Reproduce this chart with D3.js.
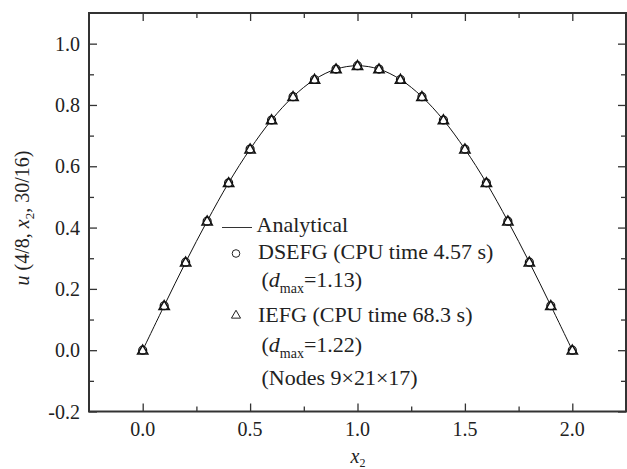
<!DOCTYPE html>
<html><head><meta charset="utf-8">
<script src="https://cdn.jsdelivr.net/npm/d3@7"></script>
<style>body{margin:0;background:#fff}svg{display:block}svg text{font-family:'Liberation Serif','DejaVu Serif','Times New Roman',serif}</style>
</head><body>
<script>
const xs = [0.0,0.1,0.2,0.3,0.4,0.5,0.6,0.7,0.8,0.9,1.0,1.1,1.2,1.3,1.4,1.5,1.6,1.7,1.8,1.9,2.0];
const analytical = [0.000,0.145,0.287,0.421,0.546,0.656,0.751,0.827,0.883,0.917,0.928,0.917,0.883,0.827,0.751,0.656,0.546,0.421,0.287,0.145,0.000];
const dsefg = [0.000,0.145,0.287,0.421,0.546,0.656,0.751,0.827,0.883,0.917,0.928,0.917,0.883,0.827,0.751,0.656,0.546,0.421,0.287,0.145,0.000];
const iefg = [0.000,0.145,0.287,0.421,0.546,0.656,0.751,0.827,0.883,0.917,0.928,0.917,0.883,0.827,0.751,0.656,0.546,0.421,0.287,0.145,0.000];
const xTicks = [0.0,0.5,1.0,1.5,2.0];
const xTickLabels = ["0.0","0.5","1.0","1.5","2.0"];
const yTicks = [-0.2,0.0,0.2,0.4,0.6,0.8,1.0];
const yTickLabels = ["-0.2","0.0","0.2","0.4","0.6","0.8","1.0"];
const xMinor = [0.25,0.75,1.25,1.75];
const yMinor = [-0.1,0.1,0.3,0.5,0.7,0.9];

const W=627,H=469;
const L=89,R=626,T=13,B=411.5;
const svg=d3.select("body").append("svg").attr("width",W).attr("height",H);
const x=d3.scaleLinear().domain([-0.25,2.25]).range([L,R]);
const y=d3.scaleLinear().domain([-0.2,1.1]).range([B,T]);
const axisCol="#333";

function tickAxis(axisFn, scale, vals, len, tr){
  const g=svg.append("g").attr("transform",tr)
    .call(axisFn(scale).tickValues(vals).tickSize(len).tickFormat(""));
  g.select(".domain").remove();
  g.selectAll("line").attr("stroke",axisCol).attr("stroke-width",1.3);
  return g;
}
tickAxis(d3.axisBottom,x,xTicks,-8,`translate(0,${B})`);
tickAxis(d3.axisBottom,x,xMinor,-5,`translate(0,${B})`);
tickAxis(d3.axisTop,x,xTicks,-8,`translate(0,${T})`);
tickAxis(d3.axisTop,x,xMinor,-5,`translate(0,${T})`);
tickAxis(d3.axisLeft,y,yTicks,-8,`translate(${L},0)`);
tickAxis(d3.axisLeft,y,yMinor,-5,`translate(${L},0)`);
tickAxis(d3.axisRight,y,yTicks,-8,`translate(${R},0)`);
tickAxis(d3.axisRight,y,yMinor,-5,`translate(${R},0)`);

svg.append("rect").attr("x",L).attr("y",T).attr("width",R-L).attr("height",B-T)
  .attr("fill","none").attr("stroke",axisCol).attr("stroke-width",2);

svg.append("g").selectAll("text").data(xTicks).join("text")
  .attr("x",d=>x(d)).attr("y",436).attr("text-anchor","middle")
  .attr("font-size",20).attr("fill","#222")
  .text((d,i)=>xTickLabels[i]);
svg.append("g").selectAll("text").data(yTicks).join("text")
  .attr("x",80).attr("y",d=>y(d)+7).attr("text-anchor","end")
  .attr("font-size",20).attr("fill","#222")
  .text((d,i)=>yTickLabels[i]);

const xt=svg.append("text").attr("x",358).attr("y",463).attr("text-anchor","middle")
  .attr("font-size",20).attr("fill","#222");
xt.append("tspan").attr("font-style","italic").text("x");
xt.append("tspan").attr("font-size",12).attr("dy",4).text("2");

const yt=svg.append("text").attr("transform","translate(29,218) rotate(-90)").attr("text-anchor","middle")
  .attr("font-size",20).attr("fill","#222");
yt.append("tspan").attr("font-style","italic").text("u");
yt.append("tspan").text(" (4/8, ");
yt.append("tspan").attr("font-style","italic").text("x");
yt.append("tspan").attr("font-size",13).attr("dy",5).text("2");
yt.append("tspan").attr("dy",-5).text(", 30/16)");

const line=d3.line().x((d,i)=>x(xs[i])).y(d=>y(d)).curve(d3.curveCatmullRom);
svg.append("path").datum(analytical).attr("d",line).attr("fill","none")
  .attr("stroke","#111").attr("stroke-width",1);

svg.append("g").selectAll("circle").data(dsefg).join("circle")
  .attr("cx",(d,i)=>x(xs[i])).attr("cy",d=>y(d)).attr("r",4)
  .attr("fill","#fff").attr("stroke","#111").attr("stroke-width",1.2);
const tri=d3.symbol().type(d3.symbolTriangle).size(46);
svg.append("g").selectAll("path").data(iefg).join("path")
  .attr("transform",(d,i)=>`translate(${x(xs[i])},${y(d)+0.8})`).attr("d",tri)
  .attr("fill","none").attr("stroke","#111").attr("stroke-width",1.5);

const lg=svg.append("g").attr("font-size",22).attr("fill","#222");
lg.append("line").attr("x1",222).attr("x2",252).attr("y1",227.5).attr("y2",227.5).attr("stroke","#333").attr("stroke-width",1);
lg.append("text").attr("x",256.5).attr("y",232).text("Analytical");
lg.append("circle").attr("cx",236).attr("cy",253.5).attr("r",3.8).attr("fill","#fff").attr("stroke","#222").attr("stroke-width",1);
lg.append("text").attr("x",258).attr("y",258.5).text("DSEFG (CPU time 4.57 s)");
function dmax(yy,val){
  const t=lg.append("text").attr("x",261.5).attr("y",yy);
  t.append("tspan").text("(");
  t.append("tspan").attr("font-style","italic").text("d");
  t.append("tspan").attr("font-size",14).attr("dy",6).text("max");
  t.append("tspan").attr("dy",-6).text("="+val+")");
}
dmax(287,"1.13");
lg.append("path").attr("transform","translate(236,315.5)").attr("d",d3.symbol().type(d3.symbolTriangle).size(36))
  .attr("fill","#fff").attr("stroke","#222").attr("stroke-width",1);
lg.append("text").attr("x",258).attr("y",322).text("IEFG (CPU time 68.3 s)");
dmax(351.5,"1.22");
lg.append("text").attr("x",261.5).attr("y",385).text("(Nodes 9×21×17)");
</script>
</body></html>
